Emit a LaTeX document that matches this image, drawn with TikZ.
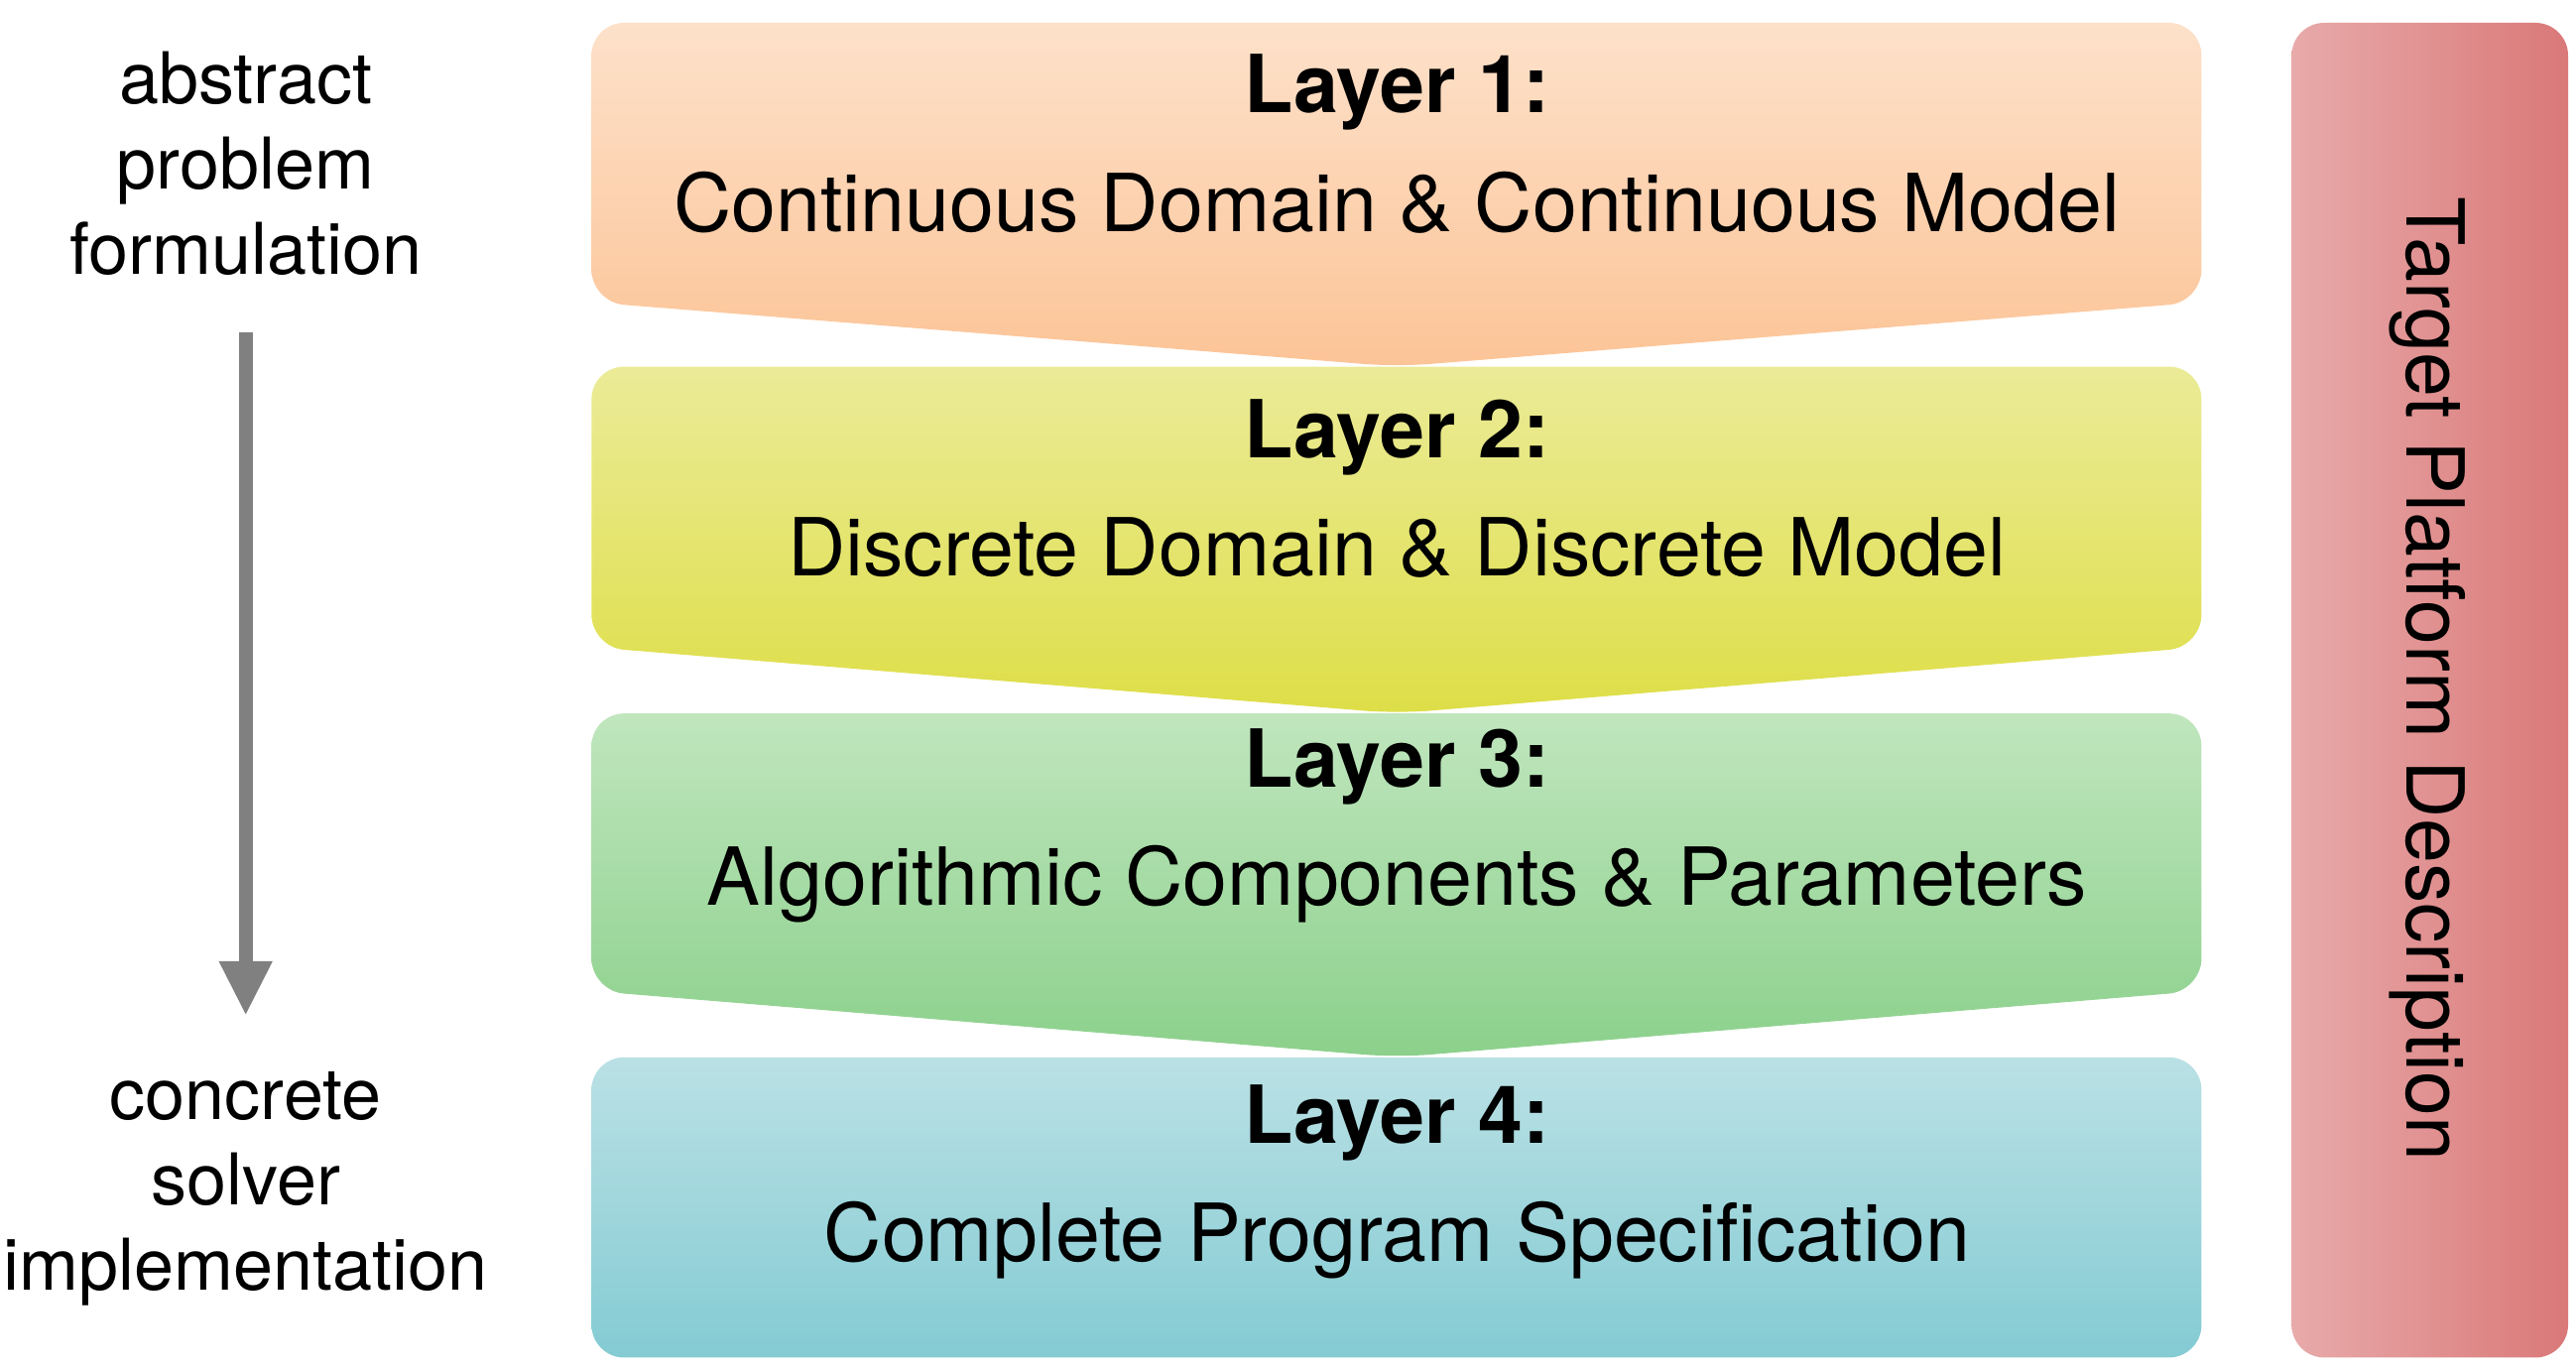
\documentclass[tikz,border=0pt]{standalone}
\usepackage{fontspec}
\setmainfont{TeX Gyre Heros}
\usetikzlibrary{calc,arrows.meta}
\def\layerbox#1#2#3#4#5{% top y, bottom y, tip y, top colour, bottom colour
  \shade[top color=#4,bottom color=#5,rounded corners=0.33cm]
    (5.97,#1) -- (22.22,#1) -- (22.22,#2) -- (14.1,#3) -- (5.97,#2) -- cycle;}
\definecolor{lone}{HTML}{FDE1CA}\definecolor{lonebot}{HTML}{FCC497}
\definecolor{ltwo}{HTML}{EBEB98}\definecolor{ltwobot}{HTML}{DEDE48}
\definecolor{lthree}{HTML}{C0E6BE}\definecolor{lthreebot}{HTML}{8BD08B}
\definecolor{lfour}{HTML}{BAE1E5}\definecolor{lfourbot}{HTML}{84CBD3}
\definecolor{tpleft}{HTML}{E8AAAA}\definecolor{tpright}{HTML}{DA7878}
\begin{document}
\begin{tikzpicture}[font=\fontsize{22}{26}\selectfont,
  layertext/.style={align=center,font=\fontsize{23}{34}\selectfont},
  sidetext/.style={align=center,font=\fontsize{20.5}{24.5}\selectfont}]
\useasboundingbox (0,0) rectangle (26,-13.826);
% layers
\layerbox{-0.23}{-3.05}{-3.70}{lone}{lonebot}
\layerbox{-3.70}{-6.53}{-7.20}{ltwo}{ltwobot}
\layerbox{-7.20}{-10.0}{-10.67}{lthree}{lthreebot}
\shade[top color=lfour,bottom color=lfourbot,rounded corners=0.33cm]
  (5.97,-10.67) rectangle (22.22,-13.70);
\node[layertext] (one) at (14.1,-1.45) {\textbf{Layer 1:}\\Continuous Domain \& Continuous Model};
\node[layertext] (two) at (14.1,-4.93) {\textbf{Layer 2:}\\Discrete Domain \& Discrete Model};
\node[layertext] (three) at (14.1,-8.33) {\textbf{Layer 3:}\\Algorithmic Components \& Parameters};
\node[layertext] (four) at (14.1,-11.93) {\textbf{Layer 4:}\\Complete Program Specification};
% target platform
\shade[left color=tpleft,right color=tpright,rounded corners=0.33cm]
  (23.13,-0.23) rectangle (25.92,-13.70);
\node[rotate=-90,font=\fontsize{23}{26}\selectfont] (target) at (24.5,-6.85) {Target Platform Description};
% direction
\node[sidetext] (abstract) at (2.48,-1.65) {abstract\\problem\\formulation};
\node[sidetext] (concrete) at (2.48,-12.0) {concrete\\solver\\implementation};
\coordinate (from) at (2.48,-3.35);
\coordinate (to) at (2.48,-10.25);
\draw[gray,line width=4pt,-{Triangle[length=0.55cm,width=0.5cm]}] (from) -- (to);
\end{tikzpicture}
\end{document}
